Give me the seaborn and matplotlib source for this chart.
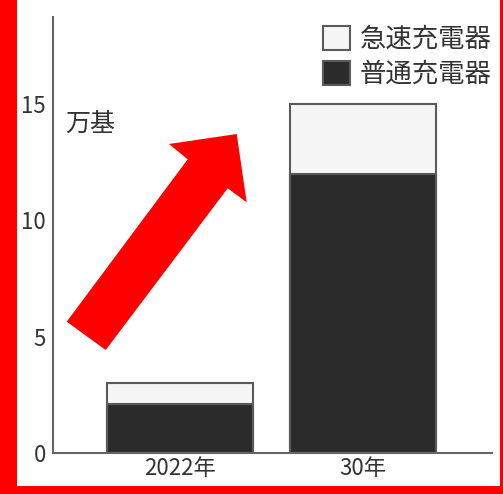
import matplotlib
matplotlib.use("Agg")
import matplotlib.pyplot as plt
import seaborn as sns
import pandas as pd
from matplotlib.patches import Polygon, Patch, Rectangle

# ================= DATA =================
years = ["2022年", "30年"]
normal = [2.1, 12.0]     # 普通充電器 (万基)
rapid = [0.9, 3.0]       # 急速充電器 (万基)
yticks = [0, 5, 10, 15]

df = pd.DataFrame({"year": years, "normal": normal, "rapid": rapid})
df["total"] = df["normal"] + df["rapid"]

# ================= STYLE =================
sns.set_style("white")
plt.rcParams["font.family"] = ["Noto Sans CJK JP", "DejaVu Sans"]

DARK = "#2b2b2b"
LIGHT = "#f5f5f5"
EDGE = "#5a5a5a"
TEXT = "#333333"

fig = plt.figure(figsize=(5.03, 4.94), dpi=100)
ax = fig.add_axes([53 / 503, 41 / 494, 439 / 503, 436 / 494])

# stacked bars: total in light, normal on top of it in dark
sns.barplot(data=df, x="year", y="total", color=LIGHT, edgecolor=EDGE,
            linewidth=1.5, width=0.8, saturation=1, ax=ax)
sns.barplot(data=df, x="year", y="normal", color=DARK, edgecolor=EDGE,
            linewidth=1.5, width=0.8, saturation=1, ax=ax)

ax.set_xlim(-0.694, 1.705)
ax.set_ylim(0, 18.75)
ax.set_yticks(yticks)
ax.set_xlabel("")
ax.set_ylabel("")

for s in ["top", "right"]:
    ax.spines[s].set_visible(False)
for s in ["left", "bottom"]:
    ax.spines[s].set_color("#666666")
    ax.spines[s].set_linewidth(1.5)

ax.tick_params(axis="y", direction="in", length=5, width=1.2, color="#666666",
               labelsize=16, labelcolor=TEXT, pad=5)
ax.tick_params(axis="x", length=0, labelsize=16, labelcolor=TEXT, pad=3)

ax.text(0.027, 0.755, "万基", transform=ax.transAxes, fontsize=18,
        color=TEXT, ha="left", va="center")

# ================= LEGEND =================
handles = [Patch(facecolor=LIGHT, edgecolor=EDGE, linewidth=1.5, label="急速充電器"),
           Patch(facecolor=DARK, edgecolor=EDGE, linewidth=1.5, label="普通充電器")]
ax.legend(handles=handles, loc="upper right", bbox_to_anchor=(1.005, 0.985),
          frameon=False, fontsize=19, labelcolor=TEXT, handlelength=1.05,
          handleheight=1.0, handletextpad=0.35, labelspacing=0.3,
          borderpad=0.1, borderaxespad=0.0)

# ================= RED ARROW + FRAME =================
W, H = 503, 494
arrow_px = [(66.7, 321.7), (187.7, 159.3), (169, 144), (236.7, 134),
            (246.7, 202.3), (227.7, 188.3), (105.7, 350)]
arrow = Polygon([(x / W, 1 - y / H) for x, y in arrow_px], closed=True,
                transform=fig.transFigure, facecolor="#ff0000", edgecolor="none",
                zorder=10)
fig.patches.append(arrow)

red = "#ff0000"
fig.patches.append(Rectangle((0, 0), 17 / W, 1, transform=fig.transFigure,
                             facecolor=red, edgecolor="none", zorder=10))
fig.patches.append(Rectangle((0, 0), 1, 8 / H, transform=fig.transFigure,
                             facecolor=red, edgecolor="none", zorder=10))
fig.patches.append(Rectangle((500 / W, 0), 3 / W, 1, transform=fig.transFigure,
                             facecolor=red, edgecolor="none", zorder=10))

fig.savefig("out.png", dpi=100)
